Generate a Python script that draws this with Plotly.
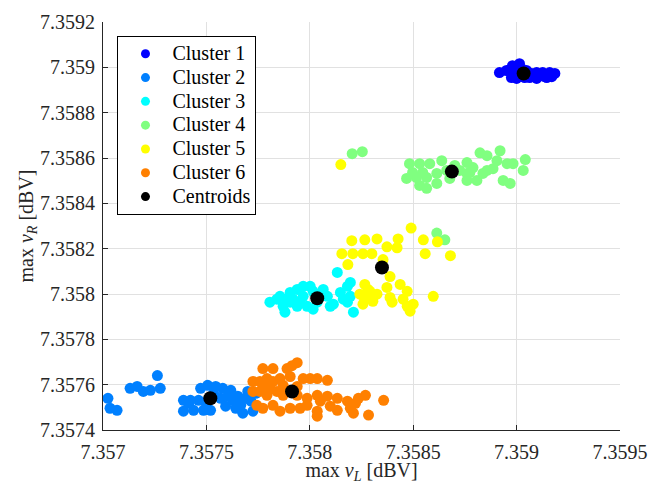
import plotly.graph_objects as go

# ---------------- data ----------------
c1_x = [7.358917, 7.358980, 7.359014, 7.358975, 7.359000, 7.359063, 7.359097, 7.359126,
        7.359160, 7.359185, 7.359097, 7.359146, 7.359048, 7.358980, 7.359073, 7.359121,
        7.359014, 7.359039, 7.359136, 7.359170, 7.358951, 7.359024, 7.359087]
c1_y = [7.358977, 7.359007, 7.359016, 7.358955, 7.358951, 7.358955, 7.358977, 7.358977,
        7.358977, 7.358973, 7.358951, 7.358955, 7.358986, 7.358977, 7.358973, 7.358964,
        7.358964, 7.358955, 7.358959, 7.358959, 7.358986, 7.358994, 7.358964]

c2_x = [7.357024, 7.357034, 7.357068, 7.357131, 7.357165, 7.357195, 7.357229, 7.357263,
        7.357277, 7.357389, 7.357389, 7.357423, 7.357438, 7.357472, 7.357506, 7.357520,
        7.357545, 7.357579, 7.357569, 7.357603, 7.357628, 7.357652, 7.357666, 7.357676,
        7.357700, 7.357715, 7.357725, 7.357462, 7.357496, 7.357593, 7.357642, 7.357691,
        7.357413, 7.357535, 7.357618, 7.357739, 7.357486]
c2_y = [7.357540, 7.357496, 7.357487, 7.357584, 7.357592, 7.357570, 7.357575, 7.357640,
        7.357584, 7.357531, 7.357483, 7.357531, 7.357487, 7.357584, 7.357597, 7.357487,
        7.357592, 7.357584, 7.357540, 7.357549, 7.357531, 7.357549, 7.357509, 7.357474,
        7.357570, 7.357527, 7.357483, 7.357531, 7.357522, 7.357505, 7.357496, 7.357540,
        7.357518, 7.357562, 7.357575, 7.357562, 7.357487]

c3_x = [7.357807, 7.357841, 7.357871, 7.357880, 7.357905, 7.357919, 7.357939, 7.357939,
        7.357968, 7.357968, 7.357987, 7.358002, 7.358016, 7.358065, 7.358085, 7.358099,
        7.358133, 7.358148, 7.358162, 7.358182, 7.358196, 7.358196, 7.358211, 7.358182,
        7.357905, 7.357953, 7.358036, 7.358051, 7.358114, 7.357856, 7.357890, 7.358016]
c3_y = [7.357964, 7.357977, 7.357946, 7.357920, 7.358007, 7.357977, 7.358020, 7.357946,
        7.358034, 7.357990, 7.357946, 7.358034, 7.357933, 7.358020, 7.357990, 7.357946,
        7.358095, 7.358007, 7.357977, 7.358034, 7.358051, 7.357990, 7.357920, 7.357964,
        7.357964, 7.357964, 7.357964, 7.357990, 7.357955, 7.357990, 7.357977, 7.358012]

c4_x = [7.358205, 7.358254, 7.358482, 7.358531, 7.358580, 7.358638, 7.358468, 7.358516,
        7.358565, 7.358531, 7.358565, 7.358614, 7.358760, 7.358789, 7.358823, 7.358857,
        7.358920, 7.358905, 7.358954, 7.358983, 7.359042, 7.359032, 7.358935, 7.358969,
        7.358760, 7.358808, 7.358837, 7.358774, 7.358725, 7.358857, 7.358662, 7.358614,
        7.358760, 7.358886, 7.358546, 7.358497, 7.358614, 7.358653, 7.358701, 7.358677]
c4_y = [7.358619, 7.358628, 7.358575, 7.358575, 7.358575, 7.358588, 7.358510, 7.358514,
        7.358514, 7.358479, 7.358466, 7.358488, 7.358580, 7.358558, 7.358623, 7.358610,
        7.358632, 7.358588, 7.358575, 7.358575, 7.358593, 7.358545, 7.358501, 7.358488,
        7.358501, 7.358501, 7.358532, 7.358536, 7.358545, 7.358545, 7.358545, 7.358532,
        7.358532, 7.358553, 7.358536, 7.358536, 7.358269, 7.358239, 7.358567, 7.358510]

c5_x = [7.358490, 7.358203, 7.358266, 7.358325, 7.358427, 7.358549, 7.358617, 7.358373,
        7.358422, 7.358155, 7.358208, 7.358257, 7.358300, 7.358354, 7.358558, 7.358680,
        7.358184, 7.358388, 7.358266, 7.358291, 7.358276, 7.358305, 7.358257, 7.358373,
        7.358437, 7.358471, 7.358388, 7.358451, 7.358398, 7.358471, 7.358500, 7.358485,
        7.358597, 7.358242, 7.358325, 7.358150, 7.358281, 7.358300, 7.358266]
c5_y = [7.358291, 7.358235, 7.358239, 7.358243, 7.358243, 7.358239, 7.358230, 7.358208,
        7.358204, 7.358178, 7.358178, 7.358178, 7.358178, 7.358152, 7.358178, 7.358169,
        7.358130, 7.358077, 7.358042, 7.358012, 7.357985, 7.357968, 7.357955, 7.358029,
        7.358042, 7.358012, 7.357985, 7.357977, 7.357964, 7.357946, 7.357955, 7.357924,
        7.357990, 7.357999, 7.357999, 7.358571, 7.358020, 7.357990, 7.357977]

c6_x = [7.357773, 7.357822, 7.357890, 7.357939, 7.357914, 7.357725, 7.357759, 7.357793,
        7.357822, 7.357856, 7.357871, 7.357968, 7.358002, 7.358036, 7.358085, 7.357725,
        7.357759, 7.357793, 7.357841, 7.357871, 7.357939, 7.357987, 7.358036, 7.358085,
        7.357744, 7.357773, 7.357822, 7.357856, 7.357905, 7.357953, 7.357987, 7.358036,
        7.358036, 7.358051, 7.358099, 7.358133, 7.358133, 7.358182, 7.358196, 7.358221,
        7.358235, 7.358269, 7.358211, 7.358284, 7.358357, 7.357773, 7.357807, 7.357856,
        7.357939, 7.357905]
c6_y = [7.357671, 7.357671, 7.357671, 7.357697, 7.357684, 7.357614, 7.357614, 7.357627,
        7.357614, 7.357627, 7.357597, 7.357627, 7.357627, 7.357627, 7.357619, 7.357570,
        7.357570, 7.357553, 7.357570, 7.357553, 7.357553, 7.357540, 7.357553, 7.357549,
        7.357509, 7.357496, 7.357509, 7.357483, 7.357496, 7.357496, 7.357509, 7.357483,
        7.357461, 7.357527, 7.357505, 7.357540, 7.357487, 7.357527, 7.357496, 7.357518,
        7.357540, 7.357553, 7.357474, 7.357466, 7.357531, 7.357597, 7.357584, 7.357570,
        7.357592, 7.357636]

centroid_x = [7.359034, 7.357519, 7.358036, 7.358687, 7.358349, 7.357914]
centroid_y = [7.358973, 7.357540, 7.357981, 7.358540, 7.358117, 7.357570]

cluster_names = ["Cluster 1", "Cluster 2", "Cluster 3", "Cluster 4", "Cluster 5", "Cluster 6"]
cluster_colors = ["rgb(0,0,255)", "rgb(0,128,255)", "rgb(0,255,255)",
                  "rgb(128,255,128)", "rgb(255,255,0)", "rgb(255,128,0)"]

x_tick_vals = [7.357, 7.3575, 7.358, 7.3585, 7.359, 7.3595]
x_tick_text = ["7.357", "7.3575", "7.358", "7.3585", "7.359", "7.3595"]
y_tick_vals = [7.3574, 7.3576, 7.3578, 7.358, 7.3582, 7.3584, 7.3586, 7.3588, 7.359, 7.3592]
y_tick_text = ["7.3574", "7.3576", "7.3578", "7.358", "7.3582", "7.3584", "7.3586",
               "7.3588", "7.359", "7.3592"]

# ---------------- figure ----------------
FONT = "Liberation Serif"
fig = go.Figure()

xs = [c1_x, c2_x, c3_x, c4_x, c5_x, c6_x]
ys = [c1_y, c2_y, c3_y, c4_y, c5_y, c6_y]
for name, col, x, y in zip(cluster_names, cluster_colors, xs, ys):
    fig.add_trace(go.Scatter(x=x, y=y, mode="markers", name=name, showlegend=False,
                             marker=dict(color=col, size=11, line=dict(width=0))))

fig.add_trace(go.Scatter(x=centroid_x, y=centroid_y, mode="markers", name="Centroids",
                         showlegend=False,
                         marker=dict(color="black", size=14, line=dict(width=0))))

# legend entries (uniform small symbols as in the reference)
for name, col in zip(cluster_names + ["Centroids"], cluster_colors + ["black"]):
    fig.add_trace(go.Scatter(x=[None], y=[None], mode="markers",
                             name='<span style="font-size:20px">' + name + '</span>',
                             marker=dict(color=col, size=9, line=dict(width=0))))

axis_common = dict(
    showgrid=True, gridcolor="#e1e1e1", gridwidth=1,
    showline=True, linecolor="#262626", linewidth=1,
    ticks="inside", ticklen=5, tickcolor="#262626",
    zeroline=False, automargin=False,
    tickfont=dict(family=FONT, size=20, color="#262626"),
)

fig.update_xaxes(range=[7.357, 7.3595], tickmode="array", tickvals=x_tick_vals,
                 ticktext=x_tick_text, ticklabelstandoff=4,
                 title=dict(text="max <i>v</i><sub><i>L</i></sub> [dBV]",
                            font=dict(family=FONT, size=20, color="#262626"), standoff=9),
                 **axis_common)
fig.update_yaxes(range=[7.3574, 7.3592], tickmode="array", tickvals=y_tick_vals,
                 ticktext=y_tick_text, ticklabelstandoff=3,
                 title=dict(text="max <i>v</i><sub><i>R</i></sub> [dBV]",
                            font=dict(family=FONT, size=20, color="#262626"), standoff=1),
                 **axis_common)

fig.update_layout(
    width=648, height=484,
    margin=dict(l=102.5, r=27.6, t=21.5, b=54),
    plot_bgcolor="white", paper_bgcolor="white",
    font=dict(family=FONT, size=18, color="black"),
    legend=dict(x=0.028, y=0.966, xanchor="left", yanchor="top",
                bgcolor="white", bordercolor="black", borderwidth=1,
                font=dict(family=FONT, size=16, color="black"),
                itemwidth=44, tracegroupgap=0),
    showlegend=True,
)

fig.write_html("out.html", config={"displayModeBar": False},
               post_script="document.body.style.margin='0';document.body.style.overflow='hidden';")
